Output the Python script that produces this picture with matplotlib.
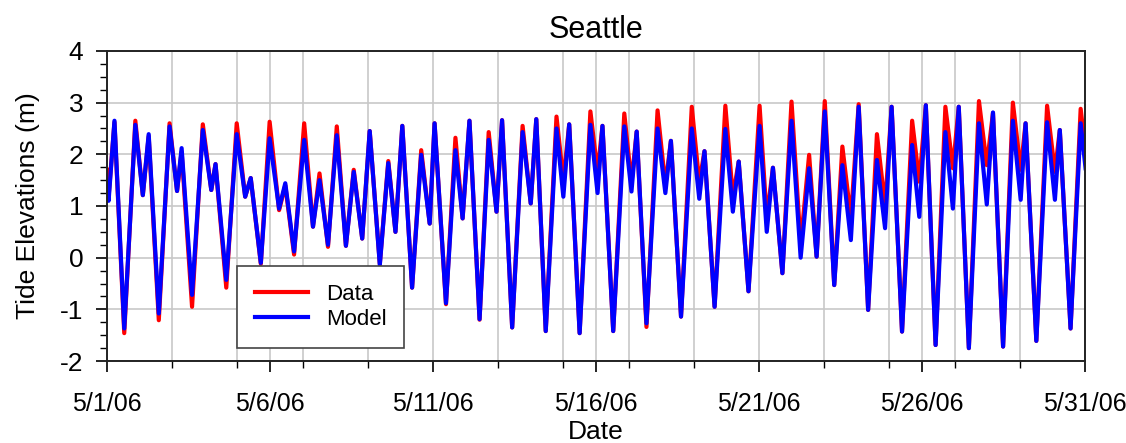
import matplotlib
matplotlib.use('Agg')
import matplotlib.pyplot as plt
import numpy as np

plt.rcParams['font.family'] = ['Liberation Sans', 'DejaVu Sans']
plt.rcParams['axes.unicode_minus'] = False

# days since 5/1/06 of each turning point
days = [0.0, 0.05, 0.23, 0.53, 0.87, 1.10, 1.28, 1.59, 1.92, 2.15, 2.29, 2.61,
        2.94, 3.20, 3.33, 3.66, 3.98, 4.24, 4.41, 4.72, 4.99, 5.28, 5.47, 5.74,
        6.05, 6.32, 6.52, 6.78, 7.05, 7.33, 7.57, 7.83, 8.06, 8.37, 8.63, 8.85,
        9.06, 9.36, 9.64, 9.90, 10.05, 10.40, 10.69, 10.91, 11.12, 11.43, 11.71,
        11.95, 12.12, 12.43, 12.75, 13.00, 13.17, 13.46, 13.79, 14.00, 14.18,
        14.50, 14.83, 15.05, 15.20, 15.53, 15.87, 16.09, 16.25, 16.55, 16.89,
        17.13, 17.30, 17.61, 17.94, 18.17, 18.33, 18.64, 18.97, 19.20, 19.38,
        19.68, 20.02, 20.24, 20.43, 20.72, 21.00, 21.28, 21.54, 21.77, 22.02,
        22.31, 22.56, 22.82, 23.06, 23.35, 23.62, 23.87, 24.07, 24.39, 24.70,
        24.92, 25.12, 25.42, 25.72, 25.95, 26.13, 26.44, 26.75, 26.99, 27.18,
        27.49, 27.79, 28.03, 28.18, 28.51, 28.84, 29.08, 29.23, 29.56, 29.87,
        30.02]

data = [1.70, 1.18, 2.62, -1.46, 2.65, 1.21, 2.35, -1.21, 2.60, 1.29, 2.05, -0.95,
        2.58, 1.31, 1.81, -0.58, 2.60, 1.18, 1.54, -0.12, 2.63, 0.92, 1.40, 0.06,
        2.60, 0.60, 1.63, 0.21, 2.54, 0.23, 1.70, 0.37, 2.45, -0.12, 1.87, 0.50,
        2.55, -0.58, 2.08, 0.66, 2.60, -0.90, 2.32, 0.76, 2.65, -1.20, 2.43,
        0.89, 2.66, -1.35, 2.55, 1.05, 2.68, -1.42, 2.73, 1.50, 2.58,
        -1.46, 2.83, 1.65, 2.55, -1.42, 2.79, 1.45, 2.44, -1.34, 2.85,
        1.40, 2.26, -1.14, 2.92, 1.45, 2.06, -0.95, 2.94, 1.18, 1.86,
        -0.65, 2.94, 0.76, 1.74, -0.30, 3.02, 0.25, 1.99, 0.02, 3.03,
        -0.53, 2.15, 0.76, 2.97, -1.01, 2.39, 1.00, 2.92, -1.43, 2.65,
        1.47, 2.95, -1.69, 2.92, 1.73, 2.92, -1.75, 3.03, 1.79, 2.80,
        -1.72, 3.00, 1.70, 2.60, -1.61, 2.94, 1.66, 2.47, -1.37, 2.88,
        2.05]

model = [1.44, 1.10, 2.65, -1.37, 2.57, 1.21, 2.39, -1.08, 2.54, 1.29, 2.12, -0.72,
         2.47, 1.31, 1.81, -0.43, 2.39, 1.18, 1.54, -0.10, 2.31, 0.95, 1.44, 0.12,
         2.28, 0.60, 1.50, 0.25, 2.37, 0.23, 1.66, 0.37, 2.45, -0.14, 1.83, 0.50,
         2.55, -0.58, 1.99, 0.66, 2.60, -0.88, 2.08, 0.76, 2.65, -1.19, 2.28,
         0.89, 2.66, -1.35, 2.43, 1.05, 2.68, -1.42, 2.50, 1.18, 2.58,
         -1.46, 2.57, 1.25, 2.55, -1.42, 2.54, 1.28, 2.44, -1.27, 2.50,
         1.25, 2.26, -1.14, 2.50, 1.14, 2.06, -0.95, 2.49, 0.89, 1.86,
         -0.65, 2.55, 0.50, 1.74, -0.30, 2.65, 0.00, 1.73, 0.02, 2.83,
         -0.53, 1.79, 0.34, 2.92, -1.01, 1.89, 0.57, 2.92, -1.43, 2.18,
         0.79, 2.95, -1.69, 2.43, 0.95, 2.92, -1.75, 2.60, 1.03, 2.81,
         -1.72, 2.65, 1.12, 2.60, -1.61, 2.62, 1.12, 2.47, -1.37, 2.60,
         1.73]

tick_days = [0, 5, 10, 15, 20, 25, 30]
tick_labels = ['5/1/06', '5/6/06', '5/11/06', '5/16/06', '5/21/06', '5/26/06', '5/31/06']

fig = plt.figure(figsize=(11.26, 4.43), dpi=100)
ax = fig.add_axes([0.095, 0.185, 0.8685, 0.70])

ax.plot(days, data, color='#ff0000', linewidth=3, solid_joinstyle='round', label='Data')
ax.plot(days, model, color='#0000ff', linewidth=3, solid_joinstyle='round', label='Model')

ax.set_xlim(0, 30)
ax.set_ylim(-2, 4)
ax.set_xticks(tick_days)
ax.set_xticklabels(tick_labels)
ax.set_xticks(np.arange(2, 30, 2), minor=True)
ax.set_yticks(np.arange(-2, 5, 1))
ax.set_yticks(np.arange(-2, 4.01, 0.25), minor=True)

ax.grid(True, which='major', color='#c8c8c8', linewidth=1.2)
ax.grid(True, which='minor', axis='x', color='#c8c8c8', linewidth=1.2)
ax.set_axisbelow(True)

ax.tick_params(which='major', direction='out', length=8, width=1.2, labelsize=18, colors='black')
ax.tick_params(axis='y', which='major', labelsize=19)
ax.tick_params(which='minor', direction='out', length=5, width=1.0)
ax.tick_params(axis='x', which='major', pad=14)
ax.tick_params(axis='y', which='major', pad=9)
for s in ax.spines.values():
    s.set_linewidth(1.4)
    s.set_color('#222222')

ax.set_title('Seattle', fontsize=22, pad=9)
ax.set_xlabel('Date', fontsize=19, labelpad=3)
ax.set_ylabel('Tide Elevations (m)', fontsize=19, labelpad=14)

leg = ax.legend(loc='lower left', bbox_to_anchor=(0.133, 0.042), borderaxespad=0,
                fontsize=16, fancybox=False, framealpha=1, edgecolor='#444444',
                handlelength=2.4, borderpad=0.8, labelspacing=0.2, handletextpad=0.8)
leg.get_frame().set_linewidth(1.2)

fig.savefig('out.png', dpi=100)
